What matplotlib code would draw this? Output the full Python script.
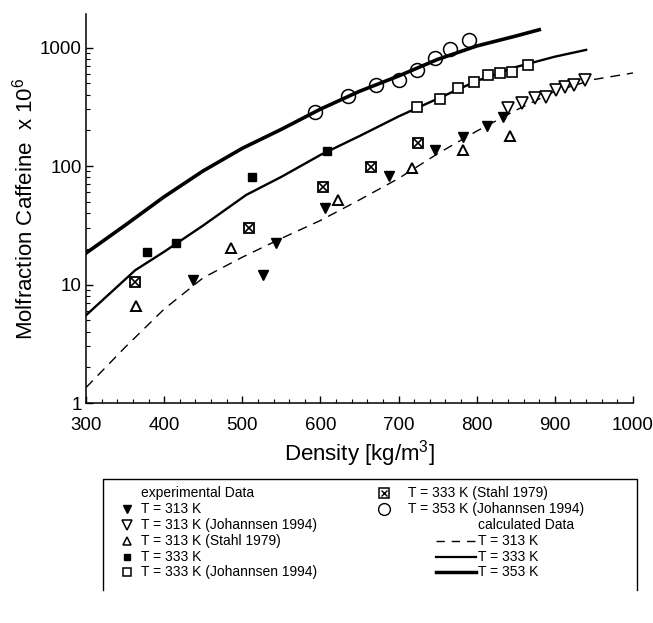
import matplotlib
matplotlib.use("Agg")
import matplotlib.pyplot as plt
from matplotlib.ticker import FixedLocator, MultipleLocator, NullFormatter, LogLocator

plt.rcParams['font.family'] = ['Liberation Sans', 'DejaVu Sans']
plt.rcParams['mathtext.fontset'] = 'custom'
plt.rcParams['mathtext.rm'] = 'Liberation Sans'

# ---- experimental data: density [kg/m3], mole fraction caffeine x 1e6 ----
d313 = [437, 527, 543, 606, 688, 747, 783, 813, 834]
x313 = [11.0, 12.0, 22.4, 44, 82, 136, 176, 217, 259]

d313_joh = [840, 858, 875, 889, 902, 913, 924, 938]
x313_joh = [308, 340, 375, 382, 438, 464, 483, 532]

d313_stahl = [364, 486, 623, 717, 783, 842]
x313_stahl = [6.6, 20.3, 51.7, 96, 136, 179]

d333 = [378, 415, 513, 609]
x333 = [18.8, 22.4, 80, 134]

d333_joh = [724, 753, 776, 796, 815, 830, 845, 866]
x333_joh = [315, 370, 455, 512, 590, 610, 618, 710]

d333_stahl = [363, 508, 603, 665, 725]
x333_stahl = [10.5, 30, 66.5, 98, 156]

d353_joh = [593, 635, 671, 700, 724, 746, 766, 790]
x353_joh = [286, 390, 483, 532, 646, 815, 971, 1157]

# ---- calculated data ----
dc313 = [300, 350, 400, 450, 500, 550, 600, 650, 700, 750, 800, 850, 900, 950, 1000]
xc313 = [1.35, 2.95, 6.2, 11.4, 17.0, 24.5, 34.7, 51.8, 78.5, 127, 197, 295, 427, 537, 610]

dc333 = [300, 363, 400, 450, 505, 550, 600, 650, 700, 750, 800, 850, 900, 940]
xc333 = [5.5, 13.2, 18.9, 31.5, 57, 81, 124, 179, 262, 370, 522, 684, 837, 955]

dc353 = [300, 350, 400, 450, 500, 550, 600, 650, 700, 750, 800, 850, 880]
xc353 = [18.4, 31.6, 55, 91, 141, 204, 302, 427, 575, 794, 1030, 1250, 1413]

x_ticks = [300, 400, 500, 600, 700, 800, 900, 1000]
y_ticks = [1, 10, 100, 1000]
y_ticklabels = ["1", "10", "100", "1000"]

W, H = 653, 623
fig = plt.figure(figsize=(W / 100, H / 100), dpi=100)
ax = fig.add_axes([86 / W, 1 - 403 / H, (633 - 86) / W, (403 - 14) / H])

ax.set_yscale('log')
ax.set_xlim(300, 1000)
ax.set_ylim(1, 1918)

# calculated curves
ax.plot(dc313, xc313, color='black', lw=1.0, dashes=(7, 5))
ax.plot(dc333, xc333, color='black', lw=1.7)
ax.plot(dc353, xc353, color='black', lw=2.6)

# experimental points
ax.plot(d313, x313, 'v', ms=7.5, color='black', mec='black')
ax.plot(d313_joh, x313_joh, 'v', ms=8, mfc='white', mec='black', mew=1.2)
ax.plot(d313_stahl, x313_stahl, '^', ms=7, mfc='white', mec='black', mew=1.4)
ax.plot(d333, x333, 's', ms=5.5, color='black')
ax.plot(d333_joh, x333_joh, 's', ms=6.5, mfc='white', mec='black', mew=1.2)
ax.plot(d333_stahl, x333_stahl, 's', ms=7.5, mfc='white', mec='black', mew=1.3)
ax.plot(d333_stahl, x333_stahl, 'x', ms=5.5, color='black', mew=1.2)
ax.plot(d353_joh, x353_joh, 'o', ms=10, mfc='none', mec='black', mew=1.1)

for s in ('top', 'right'):
    ax.spines[s].set_visible(False)
for s in ('left', 'bottom'):
    ax.spines[s].set_linewidth(1.1)

ax.xaxis.set_major_locator(FixedLocator(x_ticks))
ax.xaxis.set_minor_locator(MultipleLocator(20))
ax.yaxis.set_major_locator(FixedLocator(y_ticks))
ax.set_yticklabels(y_ticklabels)
ax.yaxis.set_minor_locator(LogLocator(base=10, subs=range(2, 10)))
ax.yaxis.set_minor_formatter(NullFormatter())
ax.tick_params(which='major', direction='in', length=5, width=1.0, labelsize=13.5)
ax.tick_params(which='minor', direction='in', length=3, width=0.8)
ax.tick_params(axis='x', which='major', pad=10)
ax.tick_params(axis='y', which='major', pad=3)

ax.set_xlabel('Density [kg/m$^{3}$]', fontsize=16, labelpad=3)
ax.set_ylabel('Molfraction Caffeine  x 10$^{6}$', fontsize=16, labelpad=2)

# ---- legend box drawn in pixel coordinates ----
lg = fig.add_axes([0, 0, 1, 1])
lg.set_xlim(0, W)
lg.set_ylim(H, 0)
lg.axis('off')
lg.plot([103, 103, 637, 637], [590, 479, 479, 590], color='black', lw=1.0)

rows = [493, 509, 525, 541, 557, 572]
fs = 10
c1m, c1t = 127, 141
c2m, c2t = 384, 408

lg.text(c1t, rows[0], 'experimental Data', fontsize=fs, va='center')
lg.plot(c1m, rows[1], 'v', ms=6, color='black')
lg.text(c1t, rows[1], 'T = 313 K', fontsize=fs, va='center')
lg.plot(c1m, rows[2], 'v', ms=6.5, mfc='white', mec='black', mew=1.1)
lg.text(c1t, rows[2], 'T = 313 K (Johannsen 1994)', fontsize=fs, va='center')
lg.plot(c1m, rows[3], '^', ms=5.5, mfc='white', mec='black', mew=1.1)
lg.text(c1t, rows[3], 'T = 313 K (Stahl 1979)', fontsize=fs, va='center')
lg.plot(c1m, rows[4], 's', ms=4.5, color='black')
lg.text(c1t, rows[4], 'T = 333 K', fontsize=fs, va='center')
lg.plot(c1m, rows[5], 's', ms=6, mfc='white', mec='black', mew=1.1)
lg.text(c1t, rows[5], 'T = 333 K (Johannsen 1994)', fontsize=fs, va='center')

lg.plot(c2m, rows[0], 's', ms=7, mfc='white', mec='black', mew=1.1)
lg.plot(c2m, rows[0], 'x', ms=5, color='black', mew=1.0)
lg.text(c2t, rows[0], 'T = 333 K (Stahl 1979)', fontsize=fs, va='center')
lg.plot(c2m, rows[1], 'o', ms=8.5, mfc='none', mec='black', mew=1.0)
lg.text(c2t, rows[1], 'T = 353 K (Johannsen 1994)', fontsize=fs, va='center')
lg.text(478, rows[2], 'calculated Data', fontsize=fs, va='center')
lg.plot([436, 476], [rows[3], rows[3]], color='black', lw=1.0, dashes=(6, 5))
lg.text(478, rows[3], 'T = 313 K', fontsize=fs, va='center')
lg.plot([436, 476], [rows[4], rows[4]], color='black', lw=1.6)
lg.text(478, rows[4], 'T = 333 K', fontsize=fs, va='center')
lg.plot([436, 476], [rows[5], rows[5]], color='black', lw=2.5)
lg.text(478, rows[5], 'T = 353 K', fontsize=fs, va='center')

fig.savefig('out.png', dpi=100)
